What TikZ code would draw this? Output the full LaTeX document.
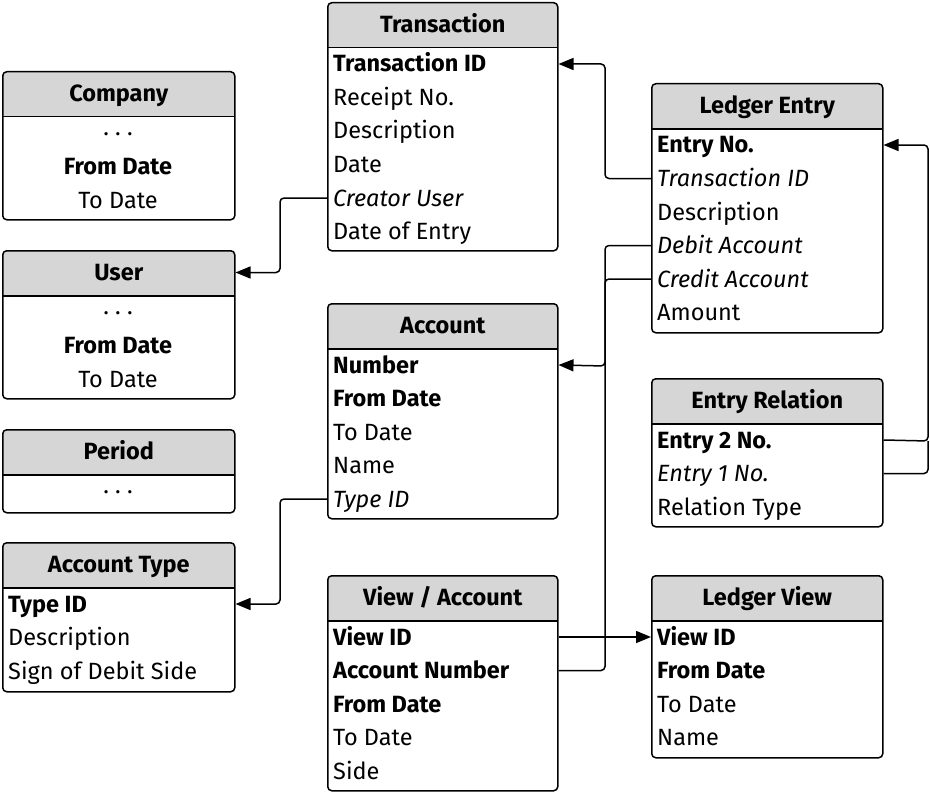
\documentclass[tikz,border=0pt]{standalone}
\usepackage{fontspec}
\setmainfont{Fira Sans}
\usetikzlibrary{positioning,arrows.meta,calc}
\definecolor{headgray}{gray}{0.84}

% one row node per field, 33.5 apart below the header
\newcommand{\fields}[5]{%
  \foreach \txt [count=\i] in {#5}
    \node[#4] (#1-\i) at ({#2},{#3+62+33.5*(\i-1)}) {\txt};}

\begin{document}
\begin{tikzpicture}[x=1pt,y=-1pt,
    every node/.style={font=\fontsize{23.5}{28}\selectfont},
    table/.style={draw,line width=1.5pt,rounded corners=4pt,anchor=north west,inner sep=0pt,
      path picture={
        \fill[headgray,sharp corners] (path picture bounding box.north west) rectangle ([yshift=-45pt]path picture bounding box.north east);
        \draw[line width=1.5pt,sharp corners] ([yshift=-45pt]path picture bounding box.north west) -- ([yshift=-45pt]path picture bounding box.north east);}},
    title/.style={font=\fontsize{23.5}{28}\selectfont\bfseries,inner sep=0pt,text height=20pt,text depth=4pt},
    field/.style={anchor=west,inner sep=0pt,text height=20pt,text depth=4pt},
    mid/.style={field,anchor=center},
    fk/.style={line width=1.5pt,rounded corners=4pt,-{Triangle[length=15pt,width=12pt]}},
    link/.style={line width=1.5pt,rounded corners=4pt}]

\useasboundingbox (0,0) rectangle (930,792);

%TABLES LEFT
  \node[table,minimum width=232pt,minimum height=148pt] (co) at (2,71) {};
  \node[title] (co-t) at ([yshift=-22.5pt]co.north) {Company};
  \fields{co}{118}{71}{mid}{· · ·, \textbf{From Date}, To Date}

  \node[table,minimum width=232pt,minimum height=148pt] (us) at (2,250) {};
  \node[title] (us-t) at ([yshift=-22.5pt]us.north) {User};
  \fields{us}{118}{250}{mid}{· · ·, \textbf{From Date}, To Date}

  \node[table,minimum width=232pt,minimum height=83pt] (pe) at (2,429) {};
  \node[title] (pe-t) at ([yshift=-22.5pt]pe.north) {Period};
  \fields{pe}{118}{429}{mid}{· · ·}

  \node[table,minimum width=232pt,minimum height=149pt] (at) at (2,542) {};
  \node[title] (at-t) at ([yshift=-22.5pt]at.north) {Account Type};
  \fields{at}{8}{542}{field}{\textbf{Type ID}, Description, Sign of Debit Side}

%TABLES MIDDLE
  \node[table,minimum width=230pt,minimum height=248pt] (tr) at (327,2) {};
  \node[title] (tr-t) at ([yshift=-22.5pt]tr.north) {Transaction};
  \fields{tr}{333}{2}{field}{\textbf{Transaction ID}, Receipt No., Description, Date, \textit{Creator User}, Date of Entry}

  \node[table,minimum width=230pt,minimum height=215pt] (ac) at (327,303) {};
  \node[title] (ac-t) at ([yshift=-22.5pt]ac.north) {Account};
  \fields{ac}{333}{303}{field}{\textbf{Number}, \textbf{From Date}, To Date, Name, \textit{Type ID}}

  \node[table,minimum width=230pt,minimum height=215pt] (va) at (327,575) {};
  \node[title] (va-t) at ([yshift=-22.5pt]va.north) {View / Account};
  \fields{va}{333}{575}{field}{\textbf{View ID}, \textbf{Account Number}, \textbf{From Date}, To Date, Side}

%TABLES RIGHT
  \node[table,minimum width=231pt,minimum height=249pt] (le) at (651,83) {};
  \node[title] (le-t) at ([yshift=-22.5pt]le.north) {Ledger Entry};
  \fields{le}{657}{83}{field}{\textbf{Entry No.}, \textit{Transaction ID}, Description, \textit{Debit Account}, \textit{Credit Account}, Amount}

  \node[table,minimum width=231pt,minimum height=148pt] (er) at (651,378) {};
  \node[title] (er-t) at ([yshift=-22.5pt]er.north) {Entry Relation};
  \fields{er}{657}{378}{field}{\textbf{Entry 2 No.}, \textit{Entry 1 No.}, Relation Type}

  \node[table,minimum width=231pt,minimum height=182pt] (lv) at (651,575) {};
  \node[title] (lv-t) at ([yshift=-22.5pt]lv.north) {Ledger View};
  \fields{lv}{657}{575}{field}{\textbf{View ID}, \textbf{From Date}, To Date, Name}

%KEYS
  \coordinate (acbus) at (605,366);
  \coordinate (erbus) at (928,441);

  \draw[fk] (le-2 -| le.west) -- ++(-46,0) |- (tr-1 -| tr.east);
  \draw[fk] (tr-5 -| tr.west) -- ++(-47,0) |- (us-t -| us.east);
  \draw[fk] (le-4 -| le.west) -| (acbus) -- (ac-1 -| ac.east);
  \draw[link] (le-5 -| le.west) -| (acbus);
  \draw[link] (va-2 -| va.east) -| (acbus);
  \draw[fk] (ac-5 -| ac.west) -- ++(-47,0) |- (at-1 -| at.east);
  \draw[fk] (va-1 -| va.east) -- (lv-1 -| lv.west);
  \draw[fk] (er-1 -| er.east) -- (erbus) |- (le-1 -| le.east);
  \draw[link] (er-2 -| er.east) -| (erbus);

\end{tikzpicture}
\end{document}
